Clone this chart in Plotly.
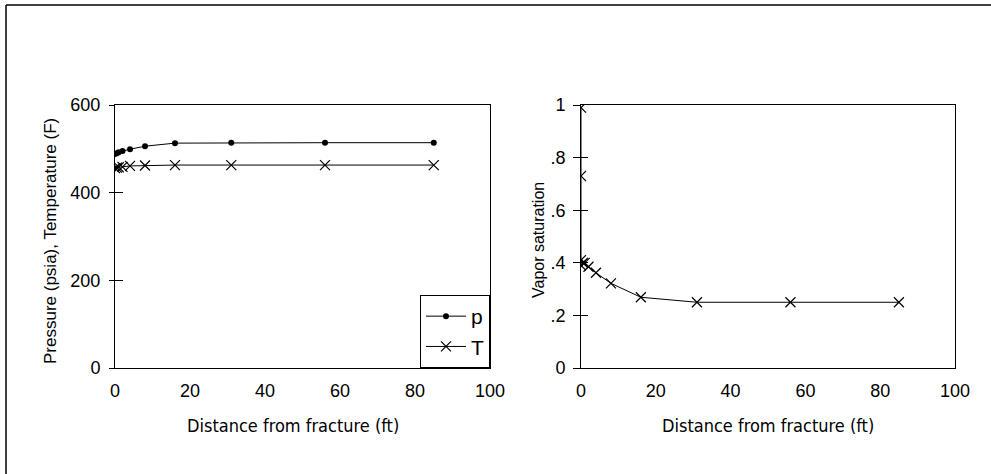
import plotly.graph_objects as go

# ---- data ----
dist_p = [0, 0.5, 1, 2, 4, 8, 16, 31, 56, 85]
pressure = [488, 490, 492, 495, 499, 506, 513, 514, 514, 514]
temperature = [456, 457, 458, 459, 461, 462, 463, 463, 463, 463]

dist_s = [0, 0, 0, 0, 0.5, 1, 2, 4, 8, 16, 31, 56, 85]
vapor_sat = [0.99, 0.73, 0.41, 0.39, 0.40, 0.40, 0.385, 0.362, 0.322, 0.269, 0.25, 0.25, 0.25]

x_ticks = [0, 20, 40, 60, 80, 100]
y1_ticks = [0, 200, 400, 600]
y2_ticks = [0, 0.2, 0.4, 0.6, 0.8, 1.0]
y2_ticktext = ["0", ".2", ".4", ".6", ".8", "1"]

W, H = 991, 474
FONT = "Liberation Sans"
TITLE_FONT = "DejaVu Sans Condensed, Liberation Sans Narrow, Liberation Sans"

fig = go.Figure()
fig.add_trace(go.Scatter(x=dist_p, y=pressure, name="p", mode="lines+markers",
                         line=dict(color="black", width=1),
                         marker=dict(symbol="circle", size=6, color="black"),
                         xaxis="x", yaxis="y"))
fig.add_trace(go.Scatter(x=dist_p, y=temperature, name="T", mode="lines+markers",
                         line=dict(color="black", width=1),
                         marker=dict(symbol="x-thin", size=10, color="black",
                                     line=dict(color="black", width=1.2)),
                         xaxis="x", yaxis="y"))
fig.add_trace(go.Scatter(x=dist_s, y=vapor_sat, name="Sv", mode="lines+markers",
                         showlegend=False,
                         line=dict(color="black", width=1),
                         marker=dict(symbol="x-thin", size=10, color="black",
                                     line=dict(color="black", width=1.2)),
                         xaxis="x2", yaxis="y2"))
fig.add_trace(go.Scatter(x=[None], y=[None], showlegend=False, xaxis="x", yaxis="y3"))
fig.add_trace(go.Scatter(x=[None], y=[None], showlegend=False, xaxis="x2", yaxis="y4"))

xd1 = [115 / W, 490 / W]
xd2 = [581 / W, 955 / W]
yd = [1 - 368 / H, 1 - 105 / H]

ax_common = dict(showline=True, linecolor="black", linewidth=1, mirror=True,
                 showgrid=False, zeroline=False, automargin=False,
                 tickfont=dict(family=FONT, size=18, color="black"))
ov_common = dict(showticklabels=False, showline=False, showgrid=False,
                 zeroline=False, automargin=False, tickcolor="black", ticks="outside")

fig.update_layout(
    template="none",
    width=W, height=H, autosize=False,
    margin=dict(l=0, r=0, t=0, b=0, pad=0, autoexpand=False),
    paper_bgcolor="white", plot_bgcolor="white",
    showlegend=True,
    legend=dict(x=490 / W, xanchor="right", y=1 - 368 / H, yanchor="bottom",
                bordercolor="black", borderwidth=1, bgcolor="white",
                font=dict(family=FONT, size=21, color="black"),
                tracegroupgap=0, itemwidth=40),
    xaxis=dict(domain=xd1, range=[0, 100], tickvals=x_ticks, ticks="",
               ticklabelstandoff=6, anchor="y", **ax_common),
    yaxis=dict(domain=yd, range=[0, 600], tickvals=y1_ticks, ticks="inside",
               ticklen=8, tickcolor="black", ticklabelstandoff=10, anchor="x", **ax_common),
    yaxis3=dict(domain=yd, range=[0, 600], tickvals=y1_ticks, ticklen=5,
                overlaying="y", anchor="x", **ov_common),
    xaxis2=dict(domain=xd2, range=[0, 100], tickvals=x_ticks, ticks="",
                ticklabelstandoff=6, anchor="y2", **ax_common),
    yaxis2=dict(domain=yd, range=[0, 1], tickvals=y2_ticks, ticktext=y2_ticktext,
                ticks="inside", ticklen=7, tickcolor="black", ticklabelstandoff=11,
                anchor="x2", **ax_common),
    yaxis4=dict(domain=yd, range=[0, 1], tickvals=y2_ticks, ticklen=7,
                overlaying="y2", anchor="x2", **ov_common),
)

title_font = dict(family=TITLE_FONT, size=18, color="black")
ann = dict(xref="paper", yref="paper", showarrow=False, xanchor="center", yanchor="middle")
fig.add_annotation(text="Distance from fracture (ft)", x=293 / W, y=1 - 425 / H,
                   font=title_font, **ann)
fig.add_annotation(text="Distance from fracture (ft)", x=768 / W, y=1 - 425 / H,
                   font=title_font, **ann)
fig.add_annotation(text="Pressure (psia), Temperature (F)", x=50 / W, y=1 - 241 / H,
                   textangle=-90, font=dict(family=FONT, size=17, color="black"), **ann)
fig.add_annotation(text="Vapor saturation", x=538 / W, y=1 - 240 / H,
                   textangle=-90, font=dict(family=FONT, size=16, color="black"), **ann)

# outer frame (top and left edges)
fig.add_shape(type="line", xref="paper", yref="paper", x0=6 / W, x1=1, y0=1 - 5 / H, y1=1 - 5 / H,
              line=dict(color="black", width=1.5))
fig.add_shape(type="line", xref="paper", yref="paper", x0=6 / W, x1=6 / W, y0=0, y1=1 - 5 / H,
              line=dict(color="black", width=1.5))

fig.write_html("out.html", config={"displayModeBar": False, "responsive": False})

# remove the default page margin so the figure sits at the window origin
with open("out.html", encoding="utf-8") as f:
    html = f.read()
html = html.replace("<head>", "<head><style>html,body{margin:0;padding:0;overflow:hidden}</style>", 1)
with open("out.html", "w", encoding="utf-8") as f:
    f.write(html)
